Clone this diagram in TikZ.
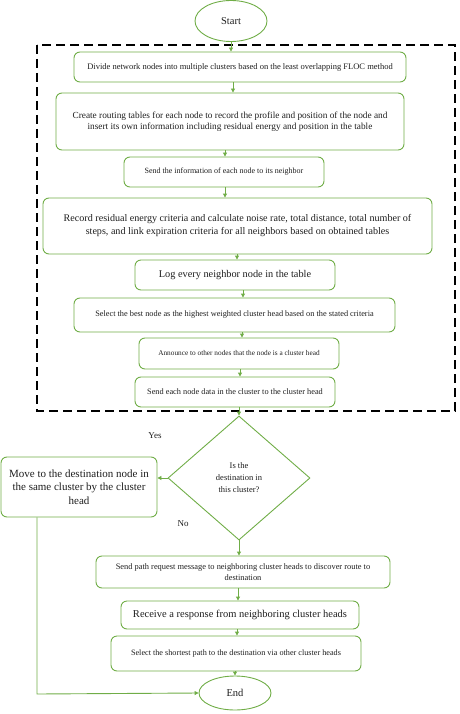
\documentclass[tikz,border=0pt]{standalone}
\usepackage{fontspec}
\setmainfont{Liberation Serif}
\usetikzlibrary{arrows.meta,shapes.geometric}
\definecolor{fgreen}{RGB}{112,173,71}
\definecolor{ftext}{RGB}{30,30,30}
\newcommand{\fsz}[2]{\fontsize{#1}{#2}\selectfont}
\tikzset{
  box/.style={draw=fgreen, line width=0.9pt, rounded corners=6pt, align=center, inner sep=2pt, text=ftext},
  term/.style={draw=fgreen, line width=0.9pt, ellipse, text=ftext, inner sep=0pt},
  arr/.style={draw=fgreen, line width=0.9pt, -{Triangle[length=4pt,width=4pt]}},
  lbl/.style={text=ftext, inner sep=0pt}
}
\begin{document}
\begin{tikzpicture}[x=1pt,y=-1pt]
\useasboundingbox (0,0) rectangle (459,714);
% dashed frame
\draw[black, line width=1.3pt, dash pattern=on 9pt off 5pt] (37,45) rectangle (455,411);

\node[term, minimum width=72pt, minimum height=41pt, font=\fsz{10.5}{12}] (start) at (231,21) {Start};

\node[box, minimum width=332pt, minimum height=30pt, font=\fsz{8.5}{10}] (b1) at (240,67)
  {Divide network nodes into multiple clusters based on the least overlapping FLOC method};
\node[box, minimum width=348pt, minimum height=57pt, font=\fsz{9.3}{11.5}] (b2) at (230,121.5)
  {Create routing tables for each node to record the profile and position of the node and\\insert its own information including residual energy and position in the table};
\node[box, minimum width=200pt, minimum height=30pt, font=\fsz{8.0}{10}] (b3) at (224,172)
  {Send the information of each node to its neighbor};
\node[box, minimum width=389pt, minimum height=56pt, font=\fsz{10.1}{13}] (b4) at (237.5,226)
  {Record residual energy criteria and calculate noise rate, total distance, total number of\\steps, and link expiration criteria for all neighbors based on obtained tables};
\node[box, minimum width=200pt, minimum height=30pt, font=\fsz{10.3}{12}] (b5) at (235,275)
  {Log every neighbor node in the table};
\node[box, minimum width=321pt, minimum height=34pt, font=\fsz{8.3}{10}] (b6) at (234.5,315)
  {Select the best node as the highest weighted cluster head based on the stated criteria};
\node[box, minimum width=200pt, minimum height=31pt, font=\fsz{7.3}{9}] (b7) at (239,353.5)
  {Announce to other nodes that the node is a cluster head};
\node[box, minimum width=200pt, minimum height=30pt, font=\fsz{8.3}{10}] (b8) at (235,392)
  {Send each node data in the cluster to the cluster head};

\node[draw=fgreen, line width=0.9pt, diamond, minimum width=142pt, minimum height=124pt, inner sep=0pt, align=center, text=ftext, font=\fsz{8.5}{12}] (dec) at (239,478)
  {Is the\\destination in\\this cluster?};

\node[box, minimum width=156pt, minimum height=60pt, font=\fsz{11}{13.5}] (left) at (79,487)
  {Move to the destination node in\\the same cluster by the cluster\\head};

\node[box, minimum width=294pt, minimum height=32pt, font=\fsz{8.4}{11}] (b9) at (243,572)
  {Send path request message to neighboring cluster heads to discover route to\\destination};
\node[box, minimum width=238pt, minimum height=28pt, font=\fsz{10.5}{12}] (b10) at (240,615)
  {Receive a response from neighboring cluster heads};
\node[box, minimum width=250pt, minimum height=35pt, font=\fsz{8.2}{10}] (b11) at (236,653.5)
  {Select the shortest path to the destination via other cluster heads};

\node[term, minimum width=72pt, minimum height=34pt, font=\fsz{10.5}{12}] (end) at (235,693) {End};

\node[lbl, font=\fsz{9}{10}] (yes) at (155,436) {Yes};
\node[lbl, font=\fsz{9}{10}] (no) at (183,524) {No};

\coordinate (turn) at (37,694);

% arrows
\draw[arr] (start.south) -- (start.south |- b1.north);
\draw[arr] (b1.south -| 233,0) -- (b2.north -| 233,0);
\draw[arr] (b2.south -| 225,0) -- (b3.north -| 225,0);
\draw[arr] (b3.south -| 225,0) -- (b4.north -| 225,0);
\draw[arr] (b4.south -| 237,0) -- (b5.north -| 237,0);
\draw[arr] (b5.south -| 243,0) -- (b6.north -| 243,0);
\draw[arr] (b6.south -| 242,0) -- (b7.north -| 242,0);
\draw[arr] (b7.south -| 240,0) -- (b8.north -| 240,0);
\draw[arr] (b8.south -| dec.north) -- (dec.north);
\draw[arr] (dec.west) -- (dec.west -| left.east);
\draw[arr] (dec.south) -- (dec.south |- b9.north);
\draw[arr] (b9.south -| 238,0) -- (b10.north -| 238,0);
\draw[arr] (b10.south -| 237,0) -- (b11.north -| 237,0);
\draw[arr] (b11.south -| end.north) -- (end.north);
\draw[arr] (left.south -| turn) -- (turn) -- (end.west);
\end{tikzpicture}
\end{document}
